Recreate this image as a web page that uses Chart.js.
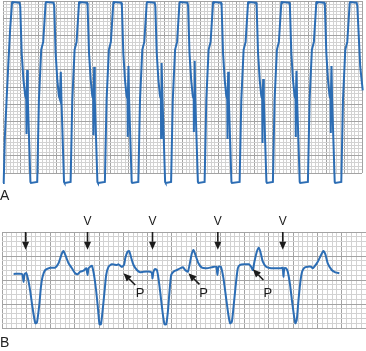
<!DOCTYPE html>
<html>
<head>
<meta charset="utf-8">
<script src="https://cdn.jsdelivr.net/npm/chart.js@4/dist/chart.umd.min.js"></script>
<style>
  body { margin: 0; background: #fff; width: 366px; height: 351px; position: relative; overflow: hidden; }
  canvas { position: absolute; left: 0; }
  #stripA { top: 0; }
  #stripB { top: 210px; }
  .lbl { position: absolute; left: 0; font: 14px Arial, "Liberation Sans", sans-serif; color: #222; }
</style>
</head>
<body>
<canvas id="stripA" width="366" height="190"></canvas>
<canvas id="stripB" width="366" height="141"></canvas>
<div class="lbl" style="top:187px">A</div>
<div class="lbl" style="top:334px">B</div>
<script>
// Strip A: time and amplitude in small boxes (mm)
const stripATime = [
  0, 0.2, 0.5, 1.0, 1.5, 2.0, 2.51, 2.68, 4.6, 4.8, 5.2, 5.7, 6.2, 6.47, 6.52, 6.58, 6.74, 6.91, 7.64, 7.8,
  9.53, 10.0, 10.64, 11.2, 11.87, 12.04, 14.1, 14.27, 14.66, 15.13, 15.57, 15.83, 16.1, 16.27, 17.0, 17.16,
  18.83, 19.3, 19.94, 20.5, 21.17, 21.34, 23.4, 23.57, 23.96, 24.43, 24.87, 25.13, 25.18, 25.24, 25.4, 25.57, 26.3, 26.46,
  28.38, 28.85, 29.49, 30.05, 30.72, 30.89, 32.95, 33.12, 33.51, 33.98, 34.42, 34.68, 34.73, 34.79, 34.95, 35.12, 35.85, 36.01,
  37.69, 38.16, 38.8, 39.36, 40.03, 40.2, 42.26, 42.43, 42.82, 43.29, 43.73, 43.99, 44.04, 44.1, 44.26, 44.43, 45.16, 45.32,
  46.82, 47.29, 47.93, 48.49, 49.16, 49.33, 51.39, 51.56, 51.95, 52.42, 52.86, 53.12, 53.17, 53.23, 53.39, 53.56, 54.29, 54.45,
  56.16, 56.63, 57.27, 57.83, 58.5, 58.67, 60.73, 60.9, 61.29, 61.76, 62.2, 62.46, 62.51, 62.57, 62.73, 62.9, 63.63, 63.79,
  65.91, 66.38, 67.02, 67.58, 68.25, 68.42, 70.48, 70.65, 71.04, 71.51, 71.95, 72.21, 72.26, 72.32, 72.48, 72.65, 73.38, 73.54,
  75.18, 75.65, 76.29, 76.85, 77.52, 77.69, 79.75, 79.92, 80.31, 80.78, 81.22, 81.48, 81.53, 81.59, 81.75, 81.92, 82.65, 82.81,
  84.93, 85.4, 86.04, 86.6, 87.27, 87.44, 89.5, 89.67, 90.06, 90.53, 90.97, 91.23, 91.28, 91.34, 91.5, 91.67, 92.4, 92.56,
  94.23, 94.7, 95.34, 95.9, 96.57, 96.74, 98.5, 98.7, 99.5, 100.2
];
const stripAAmp = [
  -2.9, -2.6, 10, 21.2, 32, 42, 49.4, 49.7, 49.5, 48.5, 34.9, 27.0, 22.4, 21.5, 11.3, 21.0, 29.9, 21.5, -2.6, -2.9,
  -2.6, 21.2, 35.8, 38.1, 49.4, 49.7, 49.5, 48.5, 34.9, 27.0, 22.4, 21.5, 29.4, 21.5, -2.6, -2.9,
  -2.6, 21.2, 35.8, 38.1, 49.4, 49.7, 49.5, 48.5, 34.9, 27.0, 22.4, 21.5, 11.0, 21.0, 30.8, 21.5, -2.6, -2.9,
  -2.6, 21.2, 35.8, 38.1, 49.4, 49.7, 49.5, 48.5, 34.9, 27.0, 22.4, 21.5, 10.5, 21.0, 31.1, 21.5, -2.6, -2.9,
  -2.6, 21.2, 35.8, 38.1, 49.4, 49.7, 49.5, 48.5, 34.9, 27.0, 22.4, 21.5, 10.2, 21.0, 32.0, 21.5, -2.6, -2.9,
  -2.6, 21.2, 35.8, 38.1, 49.4, 49.7, 49.5, 48.5, 34.9, 27.0, 22.4, 21.5, 11.9, 21.0, 32.6, 21.5, -2.6, -2.9,
  -2.6, 21.2, 35.8, 38.1, 49.4, 49.7, 49.5, 48.5, 34.9, 27.0, 22.4, 21.5, 9.9, 21.0, 29.4, 21.5, -2.6, -2.9,
  -2.6, 21.2, 35.8, 38.1, 49.4, 49.7, 49.5, 48.5, 34.9, 27.0, 22.4, 21.5, 8.7, 21.0, 27.3, 21.5, -2.6, -2.9,
  -2.6, 21.2, 35.8, 38.1, 49.4, 49.7, 49.5, 48.5, 34.9, 27.0, 22.4, 21.5, 10.5, 21.0, 29.7, 21.5, -2.6, -2.9,
  -2.6, 21.2, 35.8, 38.1, 49.4, 49.7, 49.5, 48.5, 34.9, 27.0, 22.4, 21.5, 11.6, 21.0, 31.1, 21.5, -2.6, -2.9,
  -2.6, 21.2, 35.8, 38.1, 49.4, 49.7, 49.5, 48.5, 31.0, 24.0
];

// Strip B: time and amplitude in small boxes (mm)
const stripBTime = [
  2.39, 4.12, 4.45, 4.65, 5.0, 5.21, 5.48, 5.83, 6.3, 6.86, 7.21, 7.68, 8.03, 8.36, 8.91, 9.94, 10.97,
  11.65, 12.0, 12.35, 12.68, 13.18, 13.71, 14.41, 15.09, 15.57, 16.12, 16.8, 17.36, 17.62, 17.83, 18.18, 18.53,
  18.74, 19.07, 19.42, 19.77, 20.09, 20.38, 20.71, 21.12, 21.47, 21.95, 22.65, 23.68, 24.01, 24.71, 25.18,
  25.39, 25.86, 26.21, 26.56, 27.1, 27.8, 28.47, 29.15, 30.53, 30.88, 31.01, 31.21, 31.56, 31.91, 32.24,
  32.59, 33.07, 33.48, 33.83, 34.18, 34.51, 34.86, 35.33, 36.03, 36.71, 37.27, 37.74, 38.3, 38.77, 39.12,
  39.45, 39.86, 40.48, 41.18, 42.21, 43.24, 44.12, 44.39, 44.6, 45.09, 45.63, 46.18, 46.65, 47.01, 47.36,
  47.68, 48.09, 48.59, 49.06, 49.95, 50.86, 51.33, 51.68, 52.01, 52.5, 52.91, 53.24, 53.74, 54.42, 55.45,
  56.47, 57.5, 57.85, 57.98, 58.18, 58.53, 58.88, 59.36, 59.77, 60.24, 60.45, 60.73, 61.06, 61.48, 61.83,
  62.3, 63.0, 63.68, 64.03, 64.36, 65.06, 65.74, 66.21, 66.63, 67.12, 67.94, 68.68, 69.51
];
const stripBAmp = [
  11.25, 11.25, 9.58, 11.25, 11.46, 10.83, 9.65, 7.56, 4.17, 0.98, 1.19, 4.79, 8.6, 10.69, 12.08, 12.56, 12.56,
  13.48, 14.52, 15.56, 16.04, 14.85, 13.48, 12.44, 11.4, 11.19, 11.73, 11.94, 12.44, 11.04, 12.44, 12.77, 12.98,
  12.23, 10.35, 7.56, 4.1, 0.77, 0.77, 3.4, 7.56, 11.04, 12.77, 13.27, 13.13, 13.27, 12.71, 13.27,
  14.52, 15.9, 16.04, 14.85, 13.13, 12.08, 11.6, 11.73, 11.73, 11.4, 10.35, 11.73, 12.29, 12.08, 10.35,
  7.56, 3.4, 0.77, 0.77, 3.4, 7.56, 11.04, 11.73, 12.08, 12.44, 12.65, 12.08, 11.73, 13.81, 15.56,
  16.25, 15.21, 13.48, 12.56, 12.44, 12.65, 12.77, 11.04, 12.77, 12.77, 10.35, 6.19, 2.71, 0.98, 1.31,
  4.1, 8.27, 12.44, 13.13, 13.27, 13.27, 12.77, 12.08, 13.81, 15.9, 16.73, 15.9, 13.81, 12.77, 12.44,
  12.44, 12.44, 12.56, 10.69, 12.44, 12.44, 11.73, 8.96, 5.48, 2.02, 0.98, 1.67, 5.48, 9.65, 11.73,
  12.56, 12.77, 12.77, 12.44, 12.77, 13.81, 15.21, 16.04, 15.35, 13.48, 12.08, 11.6, 11.4
];

// Annotations on strip B
const arrowTimes = [4.86, 17.62, 31.01, 44.47, 57.85];
const arrowTopAmp = 20;
const arrowTipAmp = 16.3;
const vLabelTimes = [17.62, 31.01, 44.47, 57.85];
const vLabelAmp = 22.1;
const pTipTime = [25.04, 38.42, 51.68];
const pTipAmp = [11.4, 11.4, 12.23];
const pTailTime = [27.45, 40.68, 53.86];
const pTailAmp = [8.96, 9.1, 10.0];
const pLabelTime = [28.47, 41.51, 54.77];
const pLabelAmp = [7.3, 7.25, 7.25];

const TRACE = '#2c6db4';
const MINOR = '#d2d2d2';
const MAJOR = '#a3a3a3';

function paperScale(max) {
  return {
    type: 'linear', min: 0, max: max,
    ticks: { display: false, stepSize: 1, maxTicksLimit: 200 },
    border: { display: false },
    grid: {
      drawTicks: false,
      lineWidth: 1,
      color: c => (c.tick && Math.round(c.tick.value) % 5 === 0) ? MAJOR : MINOR
    }
  };
}

function toPoints(xs, ys) {
  return xs.map((t, i) => ({ x: t, y: ys[i] }));
}

function drawArrow(ctx, x0, y0, x1, y1) {
  const ang = Math.atan2(y1 - y0, x1 - x0);
  const head = 8, half = 3.5;
  const bx = x1 - head * Math.cos(ang), by = y1 - head * Math.sin(ang);
  ctx.beginPath();
  ctx.moveTo(x0, y0);
  ctx.lineTo(bx, by);
  ctx.stroke();
  ctx.beginPath();
  ctx.moveTo(x1, y1);
  ctx.lineTo(bx + half * Math.sin(ang), by - half * Math.cos(ang));
  ctx.lineTo(bx - half * Math.sin(ang), by + half * Math.cos(ang));
  ctx.closePath();
  ctx.fill();
}

// arrows and V / P labels for strip B
const markers = {
  id: 'markers',
  afterDatasetsDraw(chart) {
    const { ctx, scales: { x, y } } = chart;
    ctx.save();
    ctx.strokeStyle = '#1b1b1b';
    ctx.fillStyle = '#1b1b1b';
    ctx.lineWidth = 1.6;
    arrowTimes.forEach(t => {
      const px = x.getPixelForValue(t);
      drawArrow(ctx, px, y.getPixelForValue(arrowTopAmp), px, y.getPixelForValue(arrowTipAmp));
    });
    pTipTime.forEach((t, i) => {
      drawArrow(ctx, x.getPixelForValue(pTailTime[i]), y.getPixelForValue(pTailAmp[i]),
        x.getPixelForValue(t), y.getPixelForValue(pTipAmp[i]));
    });
    ctx.textAlign = 'center';
    ctx.textBaseline = 'middle';
    ctx.font = '12px Arial, "Liberation Sans", sans-serif';
    vLabelTimes.forEach(t => ctx.fillText('V', x.getPixelForValue(t), y.getPixelForValue(vLabelAmp)));
    ctx.font = '13px Arial, "Liberation Sans", sans-serif';
    pLabelTime.forEach((t, i) => ctx.fillText('P', x.getPixelForValue(t), y.getPixelForValue(pLabelAmp[i])));
    ctx.restore();
  }
};

const common = {
  responsive: false,
  animation: false,
  plugins: { legend: { display: false }, tooltip: { enabled: false } }
};

new Chart(document.getElementById('stripA'), {
  type: 'line',
  data: {
    datasets: [{
      data: toPoints(stripATime, stripAAmp),
      borderColor: TRACE, borderWidth: 2, pointRadius: 0, tension: 0, clip: false
    }]
  },
  options: {
    ...common,
    layout: { padding: { left: 3, top: 1, right: 4, bottom: 17 } },
    scales: { x: paperScale(100), y: paperScale(50) }
  }
});

new Chart(document.getElementById('stripB'), {
  type: 'line',
  data: {
    datasets: [{
      data: toPoints(stripBTime, stripBAmp),
      borderColor: TRACE, borderWidth: 2, pointRadius: 0, tension: 0.2, clip: false
    }]
  },
  options: {
    ...common,
    layout: { padding: { left: 2, top: 22, right: 0, bottom: 23 } },
    scales: { x: paperScale(75), y: paperScale(20) }
  },
  plugins: [markers]
});
</script>
</body>
</html>
